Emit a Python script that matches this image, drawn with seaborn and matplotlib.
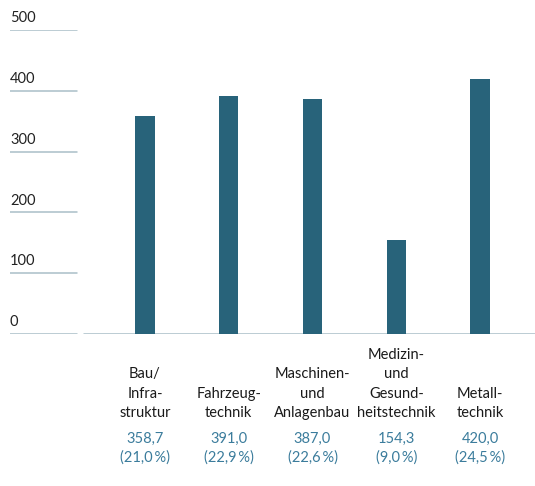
import matplotlib
matplotlib.use("Agg")
import matplotlib.pyplot as plt
import seaborn as sns
import pandas as pd

categories = ["Bau/\nInfra-\nstruktur", "Fahrzeug-\ntechnik", "Maschinen-\nund\nAnlagenbau",
              "Medizin-\nund\nGesund-\nheitstechnik", "Metall-\ntechnik"]
values = [358.7, 391.0, 387.0, 154.3, 420.0]
value_labels = ["358,7", "391,0", "387,0", "154,3", "420,0"]
share_labels = ["(21,0\u2009%)", "(22,9\u2009%)", "(22,6\u2009%)", "(9,0\u2009%)", "(24,5\u2009%)"]
yticks = [0, 100, 200, 300, 400, 500]

sns.set_theme(style="white")
plt.rcParams['font.family'] = ['Lato', 'DejaVu Sans']

W, H = 535, 486
fig = plt.figure(figsize=(W / 100, H / 100), dpi=100)
# axes: pixel x 10..535, pixel y 30 (500) .. 334 (0)
ax = fig.add_axes([10 / W, (H - 334) / H, 525 / W, 304 / H])

df = pd.DataFrame({"cat": range(len(values)), "val": values})
bar_color = "#28637a"
sns.barplot(data=df, x="cat", y="val", color=bar_color, width=0.227,
            saturation=1, ax=ax, order=list(range(len(values))))
for p in ax.patches:
    p.set_edgecolor("none")

step = 83.75
ax.set_xlim((10 - 145) / step, (535 - 145) / step)
ax.set_ylim(0, 500)
ax.axis("off")

grid_c = "#a9bfc8"
seg_end = (77 - 10) / 525
for t in yticks:
    ax.axhline(t, xmin=0, xmax=seg_end, color=grid_c, lw=1.1, zorder=0)
    ax.text(0, t + 8, str(t), transform=ax.get_yaxis_transform(),
            ha="left", va="bottom", fontsize=10.5, color="#222222")
ax.axhline(0, xmin=(84 - 10) / 525, xmax=1, color=grid_c, lw=1.1, zorder=0)

def py(pix):
    return (334 - pix) / 304

trans = ax.get_xaxis_transform()
line_h = 19.3
val_c = "#3b7c9c"
for i, cat in enumerate(categories):
    lines = cat.split("\n")
    n = len(lines)
    for k, ln in enumerate(lines):
        ypix = 413 - (n - 1 - k) * line_h
        ax.text(i, py(ypix), ln, transform=trans, ha="center", va="center",
                fontsize=10.5, color="#1a1a1a")
    ax.text(i, py(439), value_labels[i], transform=trans, ha="center", va="center",
            fontsize=10.5, color=val_c)
    ax.text(i, py(458), share_labels[i], transform=trans, ha="center", va="center",
            fontsize=10.5, color=val_c)

fig.savefig("out.png", dpi=100)
